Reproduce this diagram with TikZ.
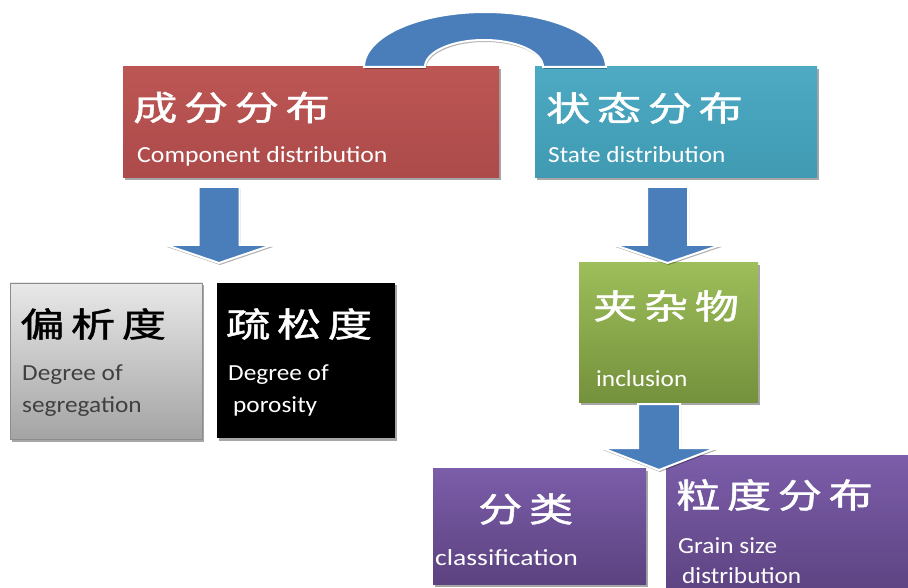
\documentclass[tikz,border=0pt]{standalone}
\usepackage{fontspec}
\usepackage{graphicx}
\setmainfont{Carlito}
\newfontfamily\zhfont{Noto Sans CJK SC}[LetterSpace=15,FakeBold=1.2]
\usetikzlibrary{shadows,calc}
\definecolor{arrowblue}{HTML}{4A7EBB}
\definecolor{redtop}{HTML}{BC5654}
\definecolor{redbot}{HTML}{AC4B4A}
\definecolor{tealtop}{HTML}{4DAAC2}
\definecolor{tealbot}{HTML}{3F9AB2}
\definecolor{greytop}{HTML}{E8E8E8}
\definecolor{greybot}{HTML}{A4A4A4}
\definecolor{greentop}{HTML}{9DBE5A}
\definecolor{greenbot}{HTML}{74913C}
\definecolor{purptop}{HTML}{7B5DA9}
\definecolor{purpbot}{HTML}{5C4280}
\definecolor{engrey}{HTML}{404040}
\newcommand\zhtxt[1]{\scalebox{1.3}[1]{\zhfont\fontsize{34}{40}\selectfont #1}}
\newcommand\entxt[2][1.1]{\scalebox{#1}[1]{\fontsize{23}{28}\selectfont #2}}
\newcommand\blkarrow[5]{% start, tip, half shaft, half head, head length
  \path[blockarrow] ($(#1)+(-#3,0)$) -- ($(#1)+(#3,0)$) -- ($(#2)+(#3,-#5)$)
    -- ($(#2)+(#4,-#5)$) -- (#2) -- ($(#2)+(-#4,-#5)$) -- ($(#2)+(-#3,-#5)$) -- cycle;}
\tikzset{
  box/.style={rectangle, inner sep=0pt, outer sep=0pt, anchor=north west,
    drop shadow={shadow xshift=1.5pt, shadow yshift=-2.5pt, opacity=0.35, fill=black}},
  zh/.style={anchor=west, inner sep=0pt, text=white},
  en/.style={anchor=base west, inner sep=0pt, text=white},
  blockarrow/.style={fill=arrowblue, draw=white, line width=2pt, line join=miter,
    drop shadow={shadow xshift=1pt, shadow yshift=-2pt, opacity=0.3, fill=black}},
}
\begin{document}
\begin{tikzpicture}[x=1pt,y=-1pt]
\useasboundingbox (0,0) rectangle (908,588);
\fill[white] (0,0) rectangle (908,588);

% boxes
\node[box, minimum width=376pt, minimum height=111pt, top color=redtop, bottom color=redbot] (red) at (123,67) {};
\node[box, minimum width=282pt, minimum height=111pt, top color=tealtop, bottom color=tealbot] (teal) at (535,67) {};
\node[box, minimum width=192pt, minimum height=156pt, top color=greytop, bottom color=greybot, draw=black!45, line width=0.6pt] (grey) at (10,283) {};
\node[box, minimum width=178pt, minimum height=155pt, fill=black] (black) at (217,283) {};
\node[box, minimum width=179pt, minimum height=139pt, top color=greentop, bottom color=greenbot] (green) at (579,263) {};
\node[box, minimum width=213pt, minimum height=116pt, top color=purptop, bottom color=purpbot] (purp1) at (433,468) {};
\node[box, minimum width=260pt, minimum height=145pt, top color=purptop, bottom color=purpbot] (purp2) at (666,455) {};

% texts
\node[zh] (redzh) at (133,107.5) {\zhtxt{成分分布}};
\node[en] (reden) at (137,163) {\entxt[1.12]{Component distribution}};
\node[zh] (tealzh) at (546,108) {\zhtxt{状态分布}};
\node[en] (tealen) at (548,163) {\entxt{State distribution}};
\node[zh, text=black] (greyzh) at (20,324) {\zhtxt{偏析度}};
\node[en, text=engrey] (greyen1) at (22,380) {\entxt{Degree of}};
\node[en, text=engrey] (greyen2) at (22,412) {\entxt{segregation}};
\node[zh] (blackzh) at (226,324) {\zhtxt{疏松度}};
\node[en] (blacken1) at (228,380) {\entxt{Degree of}};
\node[en] (blacken2) at (233,412) {\entxt{porosity}};
\node[zh] (greenzh) at (593,306) {\zhtxt{夹杂物}};
\node[en] (greenen) at (596,386) {\entxt{inclusion}};
\node[zh] (purp1zh) at (478,509) {\zhtxt{分类}};
\node[en] (purp1en) at (435,565) {\entxt[1.2]{classification}};
\node[zh] (purp2zh) at (676,495) {\zhtxt{粒度分布}};
\node[en] (purp2en1) at (678,553) {\entxt{Grain size}};
\node[en] (purp2en2) at (682,583) {\entxt{distribution}};

% arch between the top boxes
\path[blockarrow] plot[domain=180:0, samples=80] ({485+121*cos(\x)},{67-55*sin(\x)})
  -- plot[domain=0:180, samples=80] ({484+59*cos(\x)},{67-27*sin(\x)}) -- cycle;

% block arrows
\coordinate (a1s) at ($(red.south west)+(96,9)$);
\coordinate (a1t) at (219,263);
\blkarrow{a1s}{a1t}{20.5}{53}{18}
\coordinate (a2s) at (667.5,187);
\coordinate (a2t) at (667.5,263);
\blkarrow{a2s}{a2t}{20.5}{53}{18}
\coordinate (a3s) at (659,404);
\coordinate (a3t) at (659,470);
\blkarrow{a3s}{a3t}{21}{57}{22}
\end{tikzpicture}
\end{document}
